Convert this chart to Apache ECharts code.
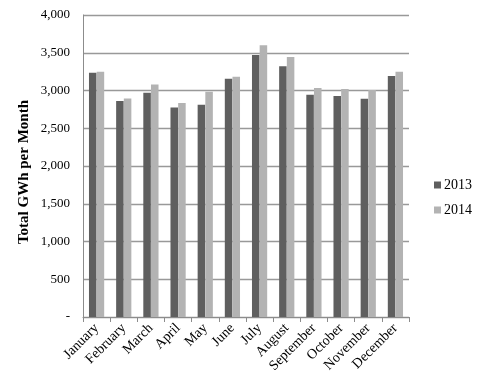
<!DOCTYPE html>
<html><head><meta charset="utf-8">
<script src="https://cdn.jsdelivr.net/npm/echarts@6/dist/echarts.min.js"></script>
<style>html,body{margin:0;padding:0;background:#fff}#c{width:480px;height:384px}</style>
</head><body><div id="c"></div>
<script>
const months = ['January','February','March','April','May','June','July','August','September','October','November','December'];
const s2013 = [3235, 2860, 2970, 2776, 2811, 3155, 3470, 3320, 2943, 2926, 2890, 3191];
const s2014 = [3250, 2895, 3081, 2833, 2983, 3182, 3598, 3443, 3032, 3019, 3006, 3250];
const yTicks = [0, 500, 1000, 1500, 2000, 2500, 3000, 3500, 4000];
const font = '"Liberation Serif", "Times New Roman", serif';
const chart = echarts.init(document.getElementById('c'), null, {renderer:'canvas'});
chart.setOption({
  animation:false,
  backgroundColor:'#fff',
  textStyle:{fontFamily:font},
  grid:{left:83,right:71,top:15,bottom:67,containLabel:false},
  legend:{orient:'vertical',left:429,top:173,itemWidth:7,itemHeight:7,itemGap:11,
    icon:'rect',textStyle:{fontFamily:font,fontSize:14,color:'#000',padding:[0,0,0,-2]},
    data:['2013','2014']},
  graphic:[{type:'text',left:17,top:100,rotation:Math.PI/2,
    style:{text:'Total GWh per Month',font:'bold 15px '+font,fill:'#000'}}],
  xAxis:{type:'category',data:months,
    axisLine:{lineStyle:{color:'#8c8c8c',width:1}},
    axisTick:{show:true,alignWithLabel:false,length:5,lineStyle:{color:'#8c8c8c'}},
    axisLabel:{rotate:45,fontFamily:font,fontSize:14,color:'#000',interval:0,margin:9}},
  yAxis:{type:'value',min:0,max:4000,interval:500,
    axisLine:{show:true,lineStyle:{color:'#8c8c8c'}},
    axisTick:{show:false},
    splitLine:{lineStyle:{color:'#999',width:1.3}},
    axisLabel:{fontFamily:font,fontSize:13,color:'#000',margin:13,
      formatter:v=>v===0?'-':v.toLocaleString('en-US')}},
  series:[
    {name:'2013',type:'bar',data:s2013,itemStyle:{color:'#5f5f5f'},barGap:'2%',barCategoryGap:'44%'},
    {name:'2014',type:'bar',data:s2014,itemStyle:{color:'#b3b3b3'},barGap:'2%',barCategoryGap:'44%'}
  ]
});
</script></body></html>
